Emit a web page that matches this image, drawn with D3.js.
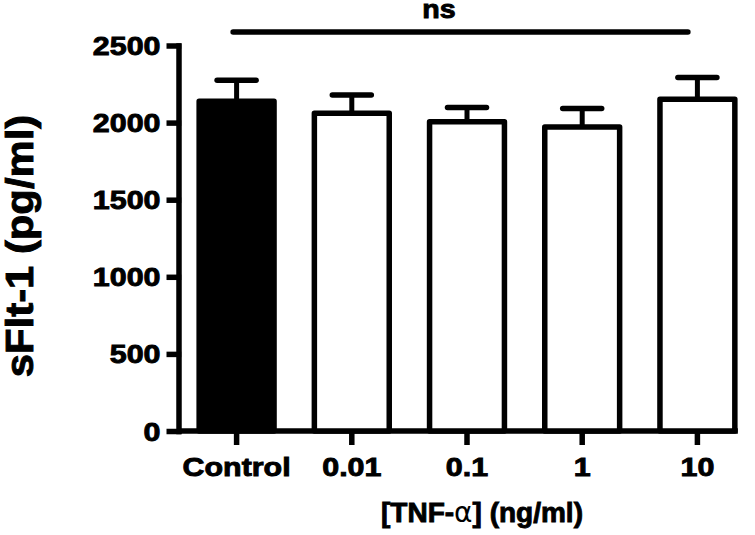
<!DOCTYPE html>
<html>
<head>
<meta charset="utf-8">
<script src="https://cdn.jsdelivr.net/npm/d3@7"></script>
<style>
  html, body { margin: 0; padding: 0; background: #fff; }
  svg { display: block; }
  text { font-family: "Liberation Sans", Arial, Helvetica, sans-serif; font-weight: bold; fill: #000; }
  .heavy { stroke: #000; stroke-width: 0.9px; paint-order: stroke; }
</style>
</head>
<body>
<svg id="chart" width="755" height="535"></svg>
<script>
// ---- data ----
const categories = ["Control", "0.01", "0.1", "1", "10"];
const values = [2138, 2060, 2005, 1971, 2152];
const errors = [136, 119, 93, 120, 141];
const yTicks = [0, 500, 1000, 1500, 2000, 2500];
const yTitle = "sFlt-1 (pg/ml)";
const sigLabel = "ns";

const svg = d3.select("#chart");
const SW = 5.5;
const STRETCH = 1.17;

const y = d3.scaleLinear().domain([0, 2500]).range([431, 45.5]);
const x = d3.scaleBand().domain(categories).range([179, 755])
  .paddingInner(0.35).paddingOuter(0.175);

// ---- y axis ----
const yAxis = d3.axisLeft(y).tickValues(yTicks).tickFormat(d3.format("d"))
  .tickSize(12).tickSizeOuter(0).tickPadding(0);
const gy = svg.append("g").attr("transform", "translate(178.5,0)").call(yAxis);
gy.select(".domain").attr("stroke", "#000").attr("stroke-width", SW).attr("stroke-linecap", "square");
gy.selectAll(".tick line").attr("stroke", "#000").attr("stroke-width", SW).attr("stroke-linecap", "butt")
  .attr("x1", SW / 2);
gy.selectAll(".tick text")
  .attr("class", "heavy")
  .attr("font-size", 26).attr("fill", "#000")
  .attr("text-anchor", "end")
  .attr("dy", null)
  .attr("y", 9)
  .attr("x", -18 / STRETCH)
  .attr("transform", `scale(${STRETCH},1)`);

// ---- x axis ----
const xAxis = d3.axisBottom(x).tickSize(14).tickSizeOuter(0).tickPadding(0);
const gx = svg.append("g").attr("transform", "translate(0,431)").call(xAxis);
const xEnd = x(categories[categories.length - 1]) + x.bandwidth() + 3;
gx.select(".domain").attr("d", `M178,0H${xEnd}`).attr("stroke", "#000").attr("stroke-width", SW);
gx.selectAll(".tick line").attr("stroke", "#000").attr("stroke-width", SW).attr("stroke-linecap", "butt");
gx.selectAll(".tick text")
  .attr("class", "heavy")
  .attr("font-size", 26).attr("fill", "#000")
  .attr("text-anchor", "middle")
  .attr("dy", null)
  .attr("y", 45)
  .attr("x", 0)
  .attr("transform", `scale(${STRETCH},1)`);

// ---- error bars ----
const eg = svg.append("g");
categories.forEach((c, i) => {
  const cx = x(c) + x.bandwidth() / 2;
  const yTop = y(values[i] + errors[i]);
  eg.append("line").attr("x1", cx).attr("x2", cx).attr("y1", y(values[i])).attr("y2", yTop)
    .attr("stroke", "#000").attr("stroke-width", 5);
  eg.append("line").attr("x1", cx - 19.5).attr("x2", cx + 19.5).attr("y1", yTop).attr("y2", yTop)
    .attr("stroke", "#000").attr("stroke-width", 5.5).attr("stroke-linecap", "round");
});

// ---- bars ----
svg.append("g").selectAll("rect").data(categories).join("rect")
  .attr("x", d => x(d))
  .attr("width", x.bandwidth())
  .attr("y", (d, i) => y(values[i]))
  .attr("height", (d, i) => y(0) - y(values[i]))
  .attr("fill", (d, i) => i === 0 ? "#000" : "#fff")
  .attr("stroke", "#000")
  .attr("stroke-width", SW)
  .attr("stroke-linejoin", "round");

// ---- significance bar ----
const sx1 = x(categories[0]) + x.bandwidth() / 2 - 3.5;
const sx2 = x(categories[categories.length - 1]) + x.bandwidth() / 2 - 9.5;
svg.append("line").attr("x1", sx1).attr("x2", sx2).attr("y1", 32).attr("y2", 32)
  .attr("stroke", "#000").attr("stroke-width", SW).attr("stroke-linecap", "round");
svg.append("text").attr("class", "heavy").attr("transform", "translate(439,18) scale(1.1,1)")
  .attr("text-anchor", "middle").attr("font-size", 26).text(sigLabel);

// ---- axis titles ----
svg.append("text").attr("class", "heavy").attr("transform", "translate(33,246) rotate(-90) scale(1.1,1)")
  .attr("text-anchor", "middle").attr("font-size", 38).text(yTitle);

const xt = svg.append("text").attr("class", "heavy").attr("x", 482).attr("y", 522)
  .attr("text-anchor", "middle").attr("font-size", 28);
xt.append("tspan").text("[TNF-");
xt.append("tspan").attr("font-family", "'DejaVu Sans', sans-serif").attr("font-weight", "normal")
  .attr("stroke-width", 0).text("α");
xt.append("tspan").text("] (ng/ml)");
</script>
</body>
</html>
